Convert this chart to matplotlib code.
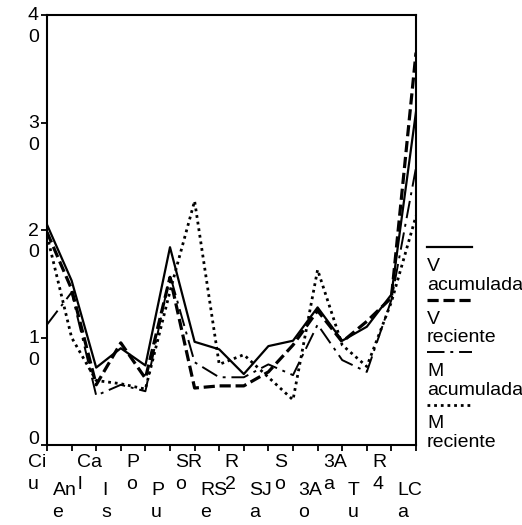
import matplotlib
matplotlib.use("Agg")
import matplotlib.pyplot as plt
from matplotlib.lines import Line2D

plt.rcParams['font.family'] = ['Liberation Sans', 'DejaVu Sans']

# datos
categorias = ["Ciu", "Ane", "Cal", "Is", "Po", "Pu", "SRo", "RSe",
              "R2", "SJa", "So", "3Ao", "3Aa", "Tu", "R4", "LCa"]
v_acumulada = [20.5, 15.3, 7.2, 9.0, 7.4, 18.4, 9.6, 8.9, 6.6, 9.2, 9.7, 12.8, 9.7, 11.0, 14.0, 31.0]
v_reciente = [19.8, 14.5, 5.6, 9.5, 6.2, 15.6, 5.3, 5.5, 5.5, 6.8, 9.3, 12.5, 9.6, 11.5, 13.7, 36.5]
m_acumulada = [11.2, 14.2, 4.6, 5.6, 5.0, 15.8, 7.7, 6.3, 6.3, 7.5, 6.5, 11.2, 7.9, 6.8, 13.5, 25.8]
m_reciente = [19.5, 10.0, 6.0, 5.7, 5.2, 14.3, 22.7, 7.5, 8.4, 6.3, 4.2, 16.3, 9.3, 7.3, 13.3, 21.3]
y_ticks = [0, 10, 20, 30, 40]
nombres = ["V\nacumulada", "V\nreciente", "M\nacumulada", "M\nreciente"]

W, H = 522, 525
fig = plt.figure(figsize=(W / 100, H / 100), dpi=100)
ax = fig.add_axes([47 / W, 1 - 445 / H, (416 - 47) / W, (445 - 15) / H])

estilos = [
    dict(ls='-', lw=1.6),
    dict(ls=(0, (3.5, 1.5)), lw=2.3),
    dict(ls=(0, (9, 3, 1.5, 3)), lw=1.4),
    dict(ls=(0, (1, 1.4)), lw=2.0),
]
series = [v_acumulada, v_reciente, m_acumulada, m_reciente]
x = list(range(len(categorias)))
for s, st in zip(series, estilos):
    ax.plot(x, s, color='black', **st)

ax.set_xlim(0, len(categorias) - 1)
ax.set_ylim(0, 40)
for sp in ax.spines.values():
    sp.set_linewidth(1.5)
ax.tick_params(direction='out', length=4, width=1.3, labelleft=False, labelbottom=False)
ax.set_xticks(x)
ax.set_yticks(y_ticks)

fs = 14
px = 0.72  # puntos por pixel

# etiquetas del eje y, una cifra por linea
for v in y_ticks:
    txt = "\n".join(str(v))
    dy = 7.5 if len(str(v)) > 1 else 14
    ax.annotate(txt, xy=(0, v), xycoords=('axes fraction', 'data'),
                xytext=(-19 * px, dy * px), textcoords='offset points',
                ha='left', va='top', fontsize=fs, linespacing=1.35)

# etiquetas del eje x, alternando dos filas
for i, c in enumerate(categorias):
    txt = c[:2] + "\n" + c[2:] if len(c) > 2 else c[0] + "\n" + c[1:]
    dy = -9 if i % 2 == 0 else -37
    ax.annotate(txt, xy=(i, 0), xycoords=('data', 'axes fraction'),
                xytext=(-19 * px, dy * px), textcoords='offset points',
                ha='left', va='top', fontsize=fs, linespacing=1.35)

# leyenda a la derecha
for k, (nombre, st) in enumerate(zip(nombres, estilos)):
    yl = 247 + k * 52.5
    fig.add_artist(Line2D([427 / W, 472 / W], [1 - yl / H, 1 - yl / H],
                          color='black', transform=fig.transFigure, **st))
    fig.text(427 / W, 1 - (yl + 11) / H, nombre, ha='left', va='top',
             fontsize=fs, linespacing=1.15)

fig.savefig("out.png", dpi=100)
